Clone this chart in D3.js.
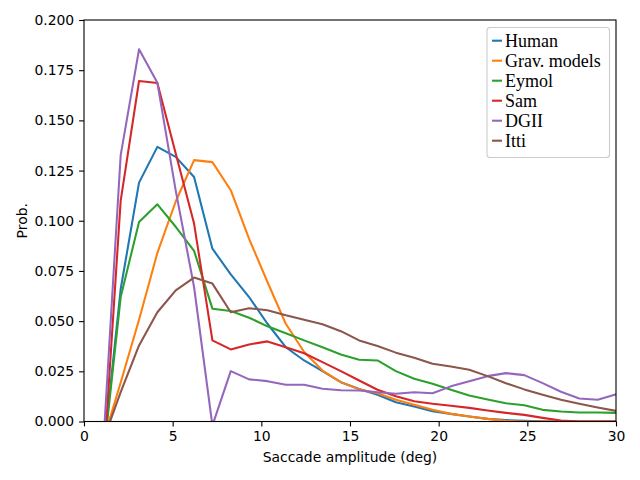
<!DOCTYPE html>
<html lang="en">
<head>
<meta charset="UTF-8">
<script src="https://d3js.org/d3.v7.min.js"></script>
<style>
  body { margin: 0; background: white; }
  svg { display: block; }
  .tick text { font-family: "DejaVu Sans", sans-serif; font-size: 13.9px; fill: #000; }
</style>
</head>
<body>
<div id="here"></div>
<script>
// bin centres: 29 points from ~1.03 to 30 deg (linspace(0, 30, 30) minus the first)
const amplitudes = d3.range(1, 30).map(i => i * 30 / 29);

const seriesNames = ["Human", "Grav. models", "Eymol", "Sam", "DGII", "Itti"];

const human = [-0.0206, 0.066, 0.119, 0.1368, 0.1318, 0.1218, 0.0861, 0.0733, 0.062, 0.0487, 0.037, 0.0304, 0.0251, 0.0196, 0.0162,
  0.0133, 0.0096, 0.0075, 0.0051, 0.0038, 0.0025, 0.0013, 0.0007, 0.0003, 0.0001, 0.0, 0.0, 0.0, 0.0];
const grav = [-0.011, 0.0194, 0.0507, 0.084, 0.1096, 0.1302, 0.1292, 0.1152, 0.091, 0.0695, 0.0487, 0.0346, 0.0254, 0.0196, 0.016,
  0.0141, 0.0108, 0.0083, 0.0058, 0.0038, 0.0025, 0.0013, 0.0003, 0.0, 0.0, 0.0, 0.0, 0.0, 0.0];
const eymol = [-0.0225, 0.062, 0.0994, 0.1082, 0.097, 0.085, 0.0562, 0.055, 0.0517, 0.0474, 0.044, 0.0404, 0.037, 0.0334, 0.0308,
  0.0304, 0.0251, 0.0213, 0.0188, 0.0158, 0.013, 0.011, 0.0091, 0.0081, 0.0058, 0.005, 0.0045, 0.0045, 0.0043];
const sam = [-0.0307, 0.110, 0.1696, 0.1686, 0.1335, 0.0986, 0.0404, 0.0359, 0.0384, 0.0399, 0.037, 0.034, 0.0296, 0.0251, 0.0204,
  0.0158, 0.0126, 0.0101, 0.0088, 0.0078, 0.0068, 0.0055, 0.0043, 0.0033, 0.0018, 0.0005, 0.0, 0.0, 0.0];
const dgii = [-0.0194, 0.1327, 0.1854, 0.1687, 0.115, 0.067, -0.002, 0.0251, 0.021, 0.0201, 0.0183, 0.0183, 0.0163, 0.0156, 0.0154,
  0.0146, 0.0138, 0.0146, 0.0141, 0.0175, 0.020, 0.0226, 0.0241, 0.0231, 0.0191, 0.0148, 0.0115, 0.0108, 0.0135];
const itti = [-0.0106, 0.0146, 0.0379, 0.0544, 0.0653, 0.0717, 0.0687, 0.0544, 0.0564, 0.0554, 0.0529, 0.0507, 0.0484, 0.045, 0.0404,
  0.0376, 0.0343, 0.0318, 0.0288, 0.0274, 0.0258, 0.0226, 0.0191, 0.016, 0.0133, 0.0108, 0.0088, 0.007, 0.0053];

const seriesValues = [human, grav, eymol, sam, dgii, itti];
const colors = ["#1f77b4", "#ff7f0e", "#2ca02c", "#d62728", "#9467bd", "#8c564b"];

const xTicks = [0, 5, 10, 15, 20, 25, 30];
const yTicks = [0, 0.025, 0.05, 0.075, 0.1, 0.125, 0.15, 0.175, 0.2];

const W = 640, H = 480;
const margin = { left: 84, right: 24, top: 20, bottom: 58.5 };

const x = d3.scaleLinear().domain([0, 30]).range([margin.left, W - margin.right]);
const y = d3.scaleLinear().domain([0, 0.2]).range([H - margin.bottom, margin.top]);

const svg = d3.select("#here").append("svg")
  .attr("width", W)
  .attr("height", H);

svg.append("defs").append("clipPath").attr("id", "plotclip")
  .append("rect")
  .attr("x", x(0)).attr("y", y(0.2))
  .attr("width", x(30) - x(0)).attr("height", y(0) - y(0.2));

const line = d3.line()
  .x((d, i) => x(amplitudes[i]))
  .y(d => y(d));

svg.append("g").attr("clip-path", "url(#plotclip)")
  .selectAll("path")
  .data(seriesValues)
  .enter()
  .append("path")
  .attr("fill", "none")
  .attr("stroke", (d, i) => colors[i])
  .attr("stroke-width", 2.08)
  .attr("stroke-linejoin", "round")
  .attr("stroke-linecap", "square")
  .attr("d", line);

// axes
const xAxis = svg.append("g")
  .attr("transform", `translate(0,${y(0)})`)
  .call(d3.axisBottom(x).tickValues(xTicks).tickFormat(d3.format("d")).tickSizeOuter(0).tickSize(4.9).tickPadding(4.9));
const yAxis = svg.append("g")
  .attr("transform", `translate(${x(0)},0)`)
  .call(d3.axisLeft(y).tickValues(yTicks).tickFormat(d3.format(".3f")).tickSizeOuter(0).tickSize(4.9).tickPadding(4.9));
[xAxis, yAxis].forEach(a => {
  a.select(".domain").remove();
  a.selectAll(".tick line").attr("stroke", "#000").attr("stroke-width", 1.1);
});

// spines
svg.append("rect")
  .attr("x", x(0)).attr("y", y(0.2))
  .attr("width", x(30) - x(0)).attr("height", y(0) - y(0.2))
  .attr("fill", "none").attr("stroke", "#000").attr("stroke-width", 1.1);

svg.append("text")
  .attr("x", (x(0) + x(30)) / 2).attr("y", 462)
  .attr("text-anchor", "middle")
  .style("font-family", "DejaVu Sans, sans-serif").style("font-size", "13.9px")
  .text("Saccade amplitude (deg)");

svg.append("text")
  .attr("transform", `translate(27,${(y(0) + y(0.2)) / 2}) rotate(-90)`)
  .attr("text-anchor", "middle")
  .style("font-family", "DejaVu Sans, sans-serif").style("font-size", "13.9px")
  .text("Prob.");

// legend
const legend = svg.append("g").attr("transform", "translate(487,27.5)");
legend.append("rect")
  .attr("width", 122.5).attr("height", 130)
  .attr("rx", 3).attr("ry", 3)
  .attr("fill", "white").attr("fill-opacity", 0.8)
  .attr("stroke", "#cccccc").attr("stroke-width", 1.1);

const items = legend.selectAll("g.item")
  .data(seriesNames)
  .enter()
  .append("g")
  .attr("class", "item")
  .attr("transform", (d, i) => `translate(0,${13.2 + i * 20})`);

items.append("line")
  .attr("x1", 5).attr("x2", 15)
  .attr("stroke", (d, i) => colors[i])
  .attr("stroke-width", 2.08);

items.append("text")
  .attr("x", 18).attr("y", 6)
  .style("font-family", "Liberation Serif, serif").style("font-size", "18px")
  .text(d => d);
</script>
</body>
</html>
